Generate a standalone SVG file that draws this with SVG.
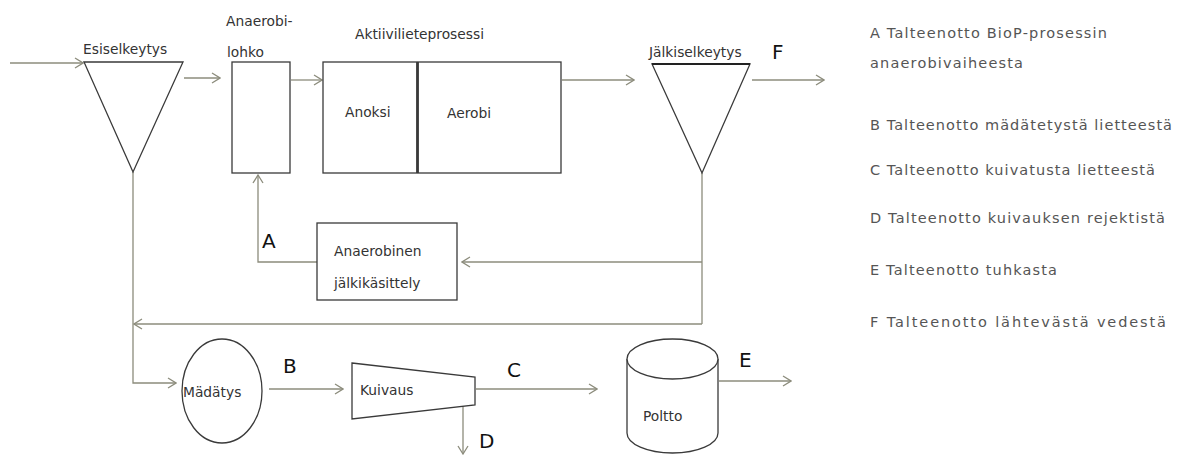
<svg xmlns="http://www.w3.org/2000/svg" width="1179" height="455" viewBox="0 0 1179 455">
<style>
.bg{fill:#fff}
.shape{fill:#fff;stroke:#3a3a3a;stroke-width:1.3}
.conn{fill:none;stroke:#8c8c7c;stroke-width:1.3}
.lbl{font-family:"DejaVu Sans",sans-serif;font-size:13.8px;fill:#333}
.big{font-family:"DejaVu Sans",sans-serif;font-size:20px;fill:#111}
.leg{font-family:"DejaVu Sans",sans-serif;font-size:14.5px;fill:#555}
</style>
<defs>
<marker id="ah" viewBox="0 0 10 12" markerWidth="10" markerHeight="12" refX="9" refY="6" orient="auto" markerUnits="userSpaceOnUse">
<path d="M1,1 L9,6 L1,11" fill="none" stroke="#8c8c7c" stroke-width="1.3"/>
</marker>
</defs>
<rect class="bg" x="0" y="0" width="1179" height="455"/>

<g id="connectors">
<line class="conn" x1="10" y1="63" x2="83" y2="63" marker-end="url(#ah)"/>
<line class="conn" x1="184" y1="78" x2="220" y2="78" marker-end="url(#ah)"/>
<line class="conn" x1="291" y1="80" x2="322" y2="80" marker-end="url(#ah)"/>
<line class="conn" x1="562" y1="80" x2="634" y2="80" marker-end="url(#ah)"/>
<line class="conn" x1="752" y1="80" x2="824" y2="80" marker-end="url(#ah)"/>
<line class="conn" x1="702" y1="173" x2="702" y2="324"/>
<line class="conn" x1="702" y1="262" x2="462" y2="262" marker-end="url(#ah)"/>
<polyline class="conn" points="317,262 258,262 258,175" marker-end="url(#ah)"/>
<line class="conn" x1="702" y1="324" x2="134" y2="324" marker-end="url(#ah)"/>
<polyline class="conn" points="133,172 133,383 176,383" marker-end="url(#ah)"/>
<line class="conn" x1="269" y1="389" x2="343" y2="389" marker-end="url(#ah)"/>
<line class="conn" x1="476" y1="389" x2="597" y2="389" marker-end="url(#ah)"/>
<line class="conn" x1="463" y1="403" x2="463" y2="454" marker-end="url(#ah)"/>
<line class="conn" x1="719" y1="381" x2="791" y2="381" marker-end="url(#ah)"/>
</g>

<g id="esiselkeytys">
<polygon class="shape" points="84,62 183,62 133,172"/>
<text class="lbl" x="83" y="54">Esiselkeytys</text>
</g>

<g id="anaerobilohko">
<rect class="shape" x="232" y="62" width="58" height="111"/>
<text class="lbl" x="226" y="26">Anaerobi-</text>
<text class="lbl" x="227" y="57">lohko</text>
</g>

<g id="aktiiviliete">
<text class="lbl" x="355" y="39">Aktiivilieteprosessi</text>
<rect class="shape" x="323" y="62" width="94" height="111"/>
<rect class="shape" x="418" y="62" width="143" height="111"/>
<line x1="417.5" y1="62" x2="417.5" y2="173" stroke="#3a3a3a" stroke-width="2.5"/>
<text class="lbl" x="345" y="117">Anoksi</text>
<text class="lbl" x="447" y="118">Aerobi</text>
</g>

<g id="jalkiselkeytys">
<polygon class="shape" points="652,64 750,64 702,173"/>
<line x1="652" y1="64" x2="750" y2="64" stroke="#222" stroke-width="2"/>
<text class="lbl" x="649" y="57">Jälkiselkeytys</text>
<text class="big" x="772" y="59">F</text>
</g>

<g id="anaerobinen">
<rect class="shape" x="317" y="223" width="140" height="77"/>
<text class="lbl" x="334" y="256">Anaerobinen</text>
<text class="lbl" x="334" y="288">jälkikäsittely</text>
<text class="big" x="262" y="248">A</text>
</g>

<g id="madatys">
<ellipse class="shape" cx="222" cy="391" rx="40" ry="52"/>
<text class="lbl" x="183" y="397">Mädätys</text>
<text class="big" x="283" y="373">B</text>
</g>

<g id="kuivaus">
<polygon class="shape" points="352,363 475,377 475,405 352,419"/>
<text class="lbl" x="360" y="395">Kuivaus</text>
<text class="big" x="507" y="377">C</text>
<text class="big" x="479" y="448">D</text>
</g>

<g id="poltto">
<path class="shape" d="M627,359 L627,433 A45.5,20 0 0 0 718,433 L718,359"/>
<ellipse class="shape" cx="672.5" cy="359" rx="45.5" ry="20"/>
<text class="lbl" x="643" y="421">Poltto</text>
<text class="big" x="739" y="367">E</text>
</g>

<g id="legend">
<text class="leg" x="870" y="38" textLength="237" lengthAdjust="spacing">A Talteenotto BioP-prosessin</text>
<text class="leg" x="870" y="68" textLength="153" lengthAdjust="spacing">anaerobivaiheesta</text>
<text class="leg" x="870" y="130" textLength="302" lengthAdjust="spacing">B Talteenotto mädätetystä lietteestä</text>
<text class="leg" x="870" y="175" textLength="285" lengthAdjust="spacing">C Talteenotto kuivatusta lietteestä</text>
<text class="leg" x="870" y="223" textLength="295" lengthAdjust="spacing">D Talteenotto kuivauksen rejektistä</text>
<text class="leg" x="870" y="275" textLength="187" lengthAdjust="spacing">E Talteenotto tuhkasta</text>
<text class="leg" x="870" y="327" textLength="296" lengthAdjust="spacing">F Talteenotto lähtevästä vedestä</text>
</g>
</svg>
